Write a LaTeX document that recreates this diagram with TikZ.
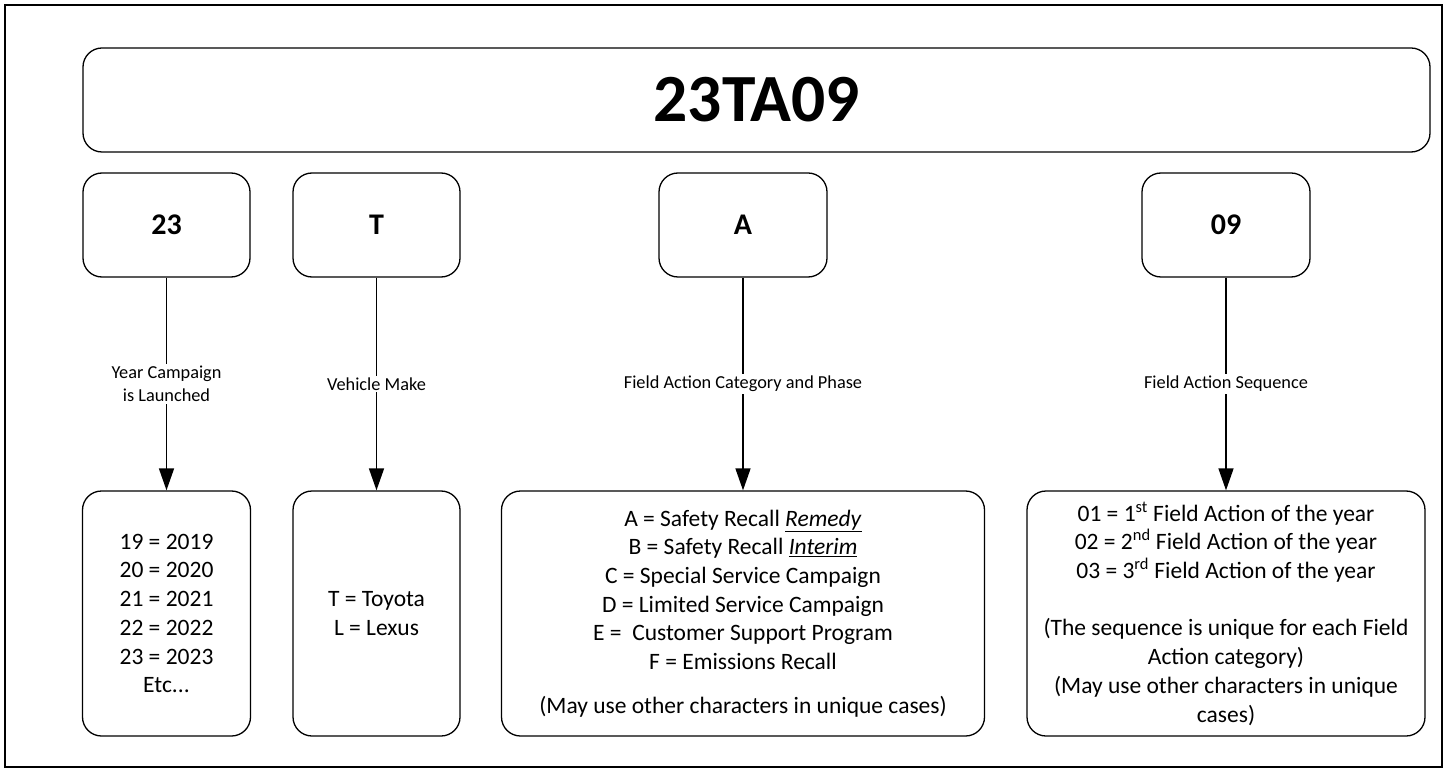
\documentclass[tikz,border=0pt]{standalone}
\usepackage{fontspec}
\setmainfont{Carlito}
\usetikzlibrary{arrows.meta}
\tikzset{
every picture/.style={x=1pt, y=1pt},
box/.style={draw, rounded corners=19pt, line width=1.3pt, align=center, inner sep=0pt},
codebox/.style={box, minimum height=104pt, font=\fontsize{30}{36}\selectfont\bfseries},
listbox/.style={box, minimum height=245pt, font=\fontsize{23.5}{28.7}\selectfont},
arr/.style={line width=1.5pt, -{Triangle[length=22pt,width=15pt]}},
lbl/.style={fill=white, inner sep=2pt, align=center, font=\fontsize{18.3}{22.6}\selectfont}
}

\begin{document}
\begin{tikzpicture}
    \useasboundingbox (0,0) rectangle (1447,772);
    \draw[line width=2.5pt] (5,5) rectangle (1442,767);
    \node[box, minimum width=1347pt, minimum height=104pt, font=\fontsize{67.5}{80}\selectfont\bfseries] (code) at (756.5,672) {23TA09};
    \node[codebox, minimum width=167pt] (yr) at (166.5,547) {23};
    \node[codebox, minimum width=167pt] (mk) at (376.5,547) {T};
    \node[codebox, minimum width=168pt] (cat) at (743,547) {A};
    \node[codebox, minimum width=168pt] (seq) at (1226,547) {09};
    \node[listbox, minimum width=168pt] (yrlist) at (166.5,158.5) {
      19 = 2019\\ 20 = 2020\\ 21 = 2021\\ 22 = 2022\\ 23 = 2023\\ Etc...
    };
    \node[listbox, minimum width=167pt] (mklist) at (376.5,158.5) {
      T = Toyota\\ L = Lexus
    };
    \node[listbox, minimum width=483pt] (catlist) at (743,158.5) {
      A = Safety Recall \underline{\textit{Remedy}}\\
      B = Safety Recall \underline{\textit{Interim}}\\
      C = Special Service Campaign\\
      D = Limited Service Campaign\\
      E = \ Customer Support Program\\
      F = Emissions Recall\\[15pt]
      (May use other characters in unique cases)
    };
    \node[listbox, minimum width=398pt] (seqlist) at (1226,158.5) {
      01 = 1\textsuperscript{st} Field Action of the year\\
      02 = 2\textsuperscript{nd} Field Action of the year\\
      03 = 3\textsuperscript{rd} Field Action of the year\\[28.7pt]
      (The sequence is unique for each Field\\
      Action category)\\
      (May use other characters in unique\\
      cases)
    };
    \draw[arr] (yr) -- node[lbl] {Year Campaign\\is Launched} (yrlist);
    \draw[arr] (mk) -- node[lbl] {Vehicle Make} (mklist);
    \draw[arr] (cat) -- node[lbl] {Field Action Category and Phase} (catlist);
    \draw[arr] (seq) -- node[lbl] {Field Action Sequence} (seqlist);
  \end{tikzpicture}
\end{document}
